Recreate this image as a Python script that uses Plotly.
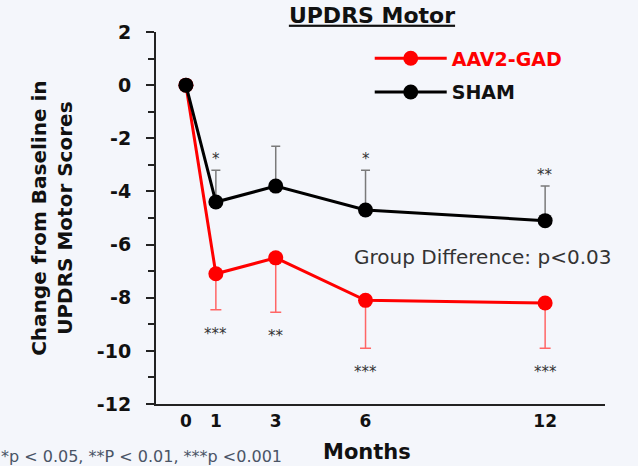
import plotly.graph_objects as go

# ---- data ----
months = [0, 1, 3, 6, 12]
x_tick_labels = ["0", "1", "3", "6", "12"]
gad_mean = [0, -7.1, -6.5, -8.1, -8.2]
gad_err_low = [0, 1.35, 2.05, 1.8, 1.7]
sham_mean = [0, -4.4, -3.8, -4.7, -5.1]
sham_err_up = [0, 1.2, 1.5, 1.5, 1.3]
gad_stars = ["", "***", "**", "***", "***"]
sham_stars = ["", "*", "", "*", "**"]
y_ticks = [2, 0, -2, -4, -6, -8, -10, -12]

FONT = "DejaVu Sans, Arial, sans-serif"
BG = "#f4f6fb"
RED = "#ff0000"

fig = go.Figure()

fig.add_trace(go.Scatter(
    x=months, y=gad_mean, mode="lines+markers",
    name="<span style='color:#ff0000'><b>AAV2-GAD</b></span>",
    line=dict(color=RED, width=3),
    marker=dict(color=RED, size=15),
    error_y=dict(type="data", symmetric=False,
                 array=[0 for _ in gad_err_low],
                 arrayminus=gad_err_low,
                 color="#ff6666", thickness=1.5, width=5.5),
    legendgroup="g1",
))
fig.add_trace(go.Scatter(
    x=months, y=sham_mean, mode="lines+markers",
    name="<b>SHAM</b>",
    line=dict(color="#000000", width=3),
    marker=dict(color="#000000", size=15),
    error_y=dict(type="data", symmetric=False,
                 array=sham_err_up,
                 arrayminus=[0 for _ in sham_err_up],
                 color="#7a7a7a", thickness=1.5, width=4.5),
    legendgroup="g2",
))

annotations = []
for xv, m, e, s in zip(months, sham_mean, sham_err_up, sham_stars):
    if s:
        annotations.append(dict(x=xv, y=m + e, xref="x", yref="y", text=s,
                                showarrow=False, yanchor="middle", yshift=11,
                                font=dict(family=FONT, size=15, color="#333333")))
for xv, m, e, s in zip(months, gad_mean, gad_err_low, gad_stars):
    if s:
        annotations.append(dict(x=xv, y=m - e, xref="x", yref="y", text=s,
                                showarrow=False, yanchor="middle", yshift=-24,
                                font=dict(family=FONT, size=15, color="#333333")))

annotations += [
    dict(text="Group Difference: p<0.03", xref="paper", yref="paper",
         x=0.437, y=0.395, xanchor="left", yanchor="middle", showarrow=False,
         font=dict(family=FONT, size=20, color="#333333")),
    dict(text="<b>Months</b>", xref="paper", yref="paper",
         x=0.47, y=-0.129, xanchor="center", yanchor="middle", showarrow=False,
         font=dict(family=FONT, size=21, color="#111111")),
    dict(text="<b>Change from Baseline in<br>UPDRS Motor Scores</b>",
         xref="paper", yref="paper", x=-0.232, y=0.5, textangle=-90,
         xanchor="center", yanchor="middle", showarrow=False,
         font=dict(family=FONT, size=20, color="#111111")),
    dict(text="*p < 0.05, **P < 0.01, ***p <0.001", xref="paper", yref="paper",
         x=-0.35, y=-0.14, xanchor="left", yanchor="middle", showarrow=False,
         font=dict(family=FONT, size=16, color="#4a5466")),
]

fig.update_layout(
    width=638, height=466,
    margin=dict(l=156, r=33, t=32, b=62),
    paper_bgcolor=BG, plot_bgcolor=BG,
    font=dict(family=FONT, color="#111111"),
    title=dict(text="<b>UPDRS Motor</b>", x=0.481, xref="paper", xanchor="center",
               y=1 - 15 / 466, yref="container", yanchor="middle",
               font=dict(family=FONT, size=22, color="#111111", lineposition="under")),
    showlegend=True,
    legend=dict(x=0.476, y=0.98, xanchor="left", yanchor="top",
                bgcolor="rgba(0,0,0,0)", font=dict(family=FONT, size=19, color="#111111"),
                traceorder="grouped", tracegroupgap=6, itemwidth=72),
    annotations=annotations,
    xaxis=dict(range=[-1, 14], tickvals=months, ticktext=x_tick_labels,
               showline=True, linecolor="#222222", linewidth=2, ticks="",
               showgrid=False, zeroline=False, ticklabelstandoff=1,
               tickfont=dict(family=FONT, size=17, color="#111111", weight="bold")),
    yaxis=dict(range=[-12, 2], tickvals=y_ticks, ticktext=[str(v) for v in y_ticks],
               showline=True, linecolor="#222222", linewidth=2,
               ticks="outside", ticklen=8, tickwidth=2, tickcolor="#222222",
               minor=dict(dtick=1, ticks="outside", ticklen=6, tickwidth=2, tickcolor="#222222"),
               showgrid=False, zeroline=False, ticklabelstandoff=11,
               tickfont=dict(family=FONT, size=19, color="#111111", weight="bold")),
)

fig.write_html("out.html", config={"displayModeBar": False},
               post_script="document.body.style.margin='0';document.body.style.background='%s';" % BG)
